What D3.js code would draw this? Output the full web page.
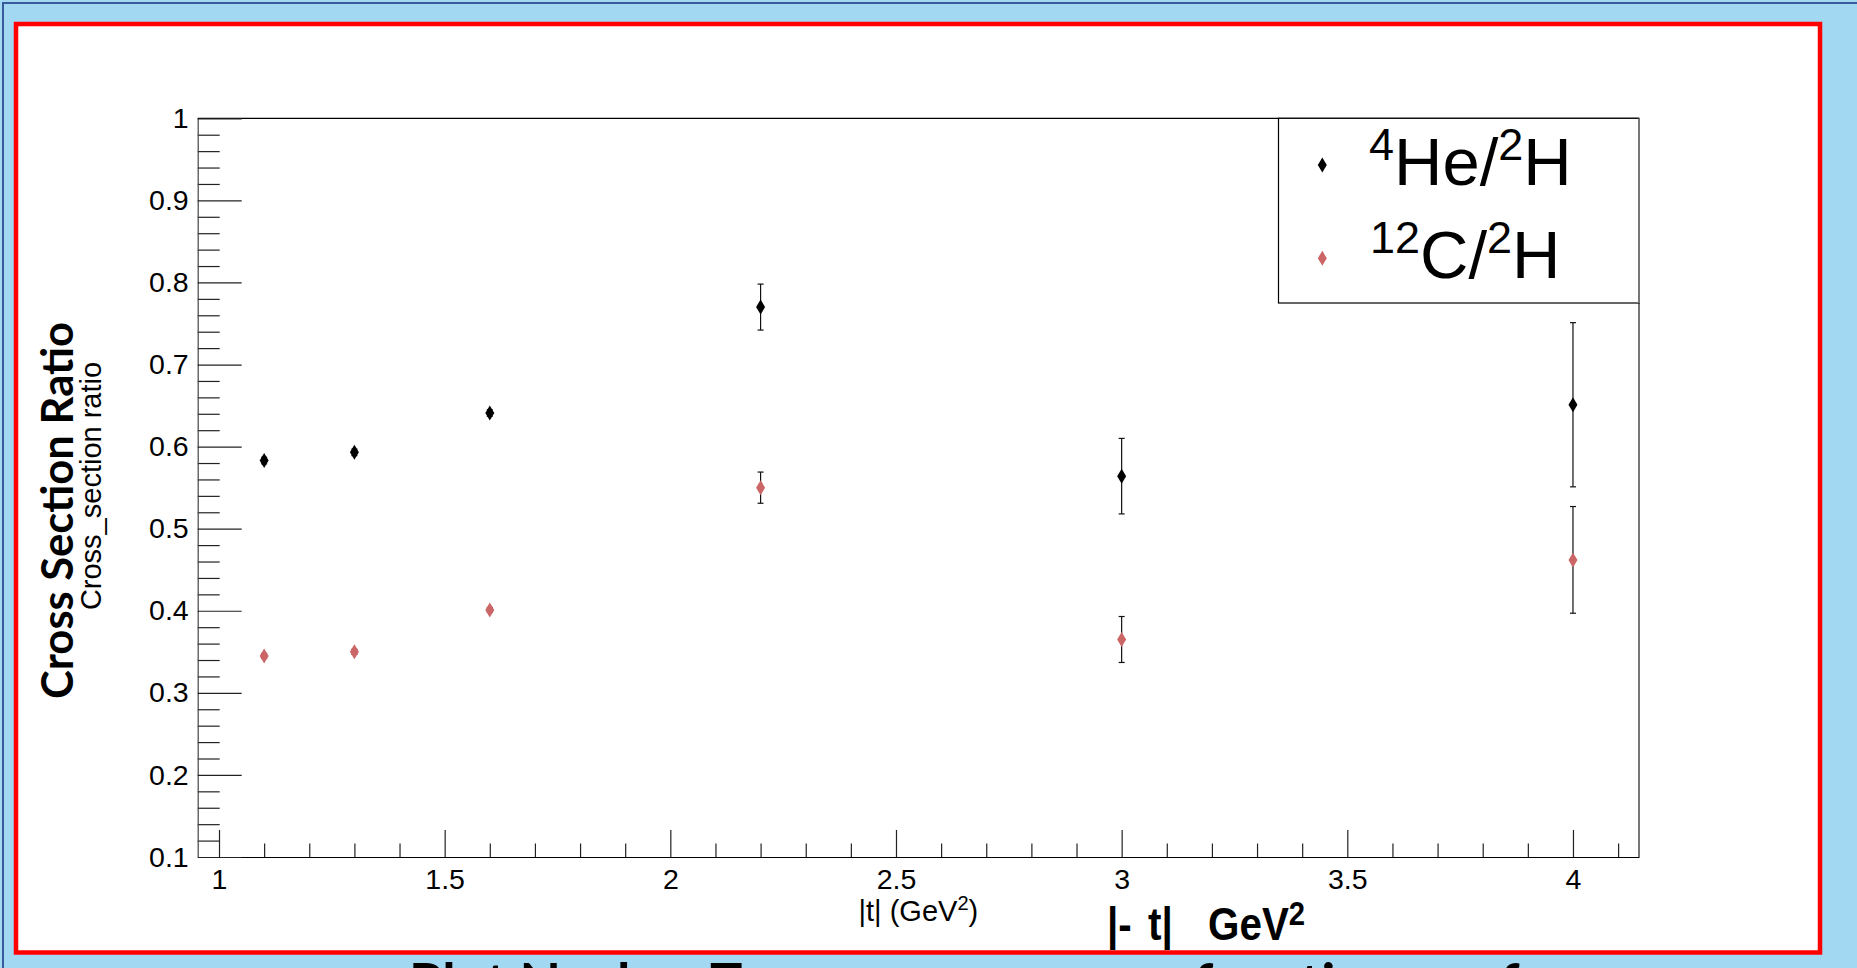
<!DOCTYPE html>
<html>
<head>
<meta charset="utf-8">
<script src="https://cdn.jsdelivr.net/npm/d3@7"></script>
<style>
  html, body { margin: 0; padding: 0; overflow: hidden; background: #a2d8f2; }
  svg { display: block; }
</style>
</head>
<body>
<svg id="chart" width="1857" height="968"></svg>
<script>
// |t| bins (GeV^2)
const tValues = [1.1, 1.3, 1.6, 2.2, 3.0, 4.0];
// 4He / 2H cross section ratio and its uncertainty
const heRatio = [0.583, 0.593, 0.641, 0.770, 0.564, 0.651];
const heError = [0.004, 0.004, 0.004, 0.028, 0.046, 0.100];
// 12C / 2H cross section ratio and its uncertainty
const cRatio = [0.345, 0.350, 0.401, 0.550, 0.365, 0.462];
const cError = [0.003, 0.003, 0.003, 0.019, 0.028, 0.065];
// axis ticks
const xMajorTicks = [1, 1.5, 2, 2.5, 3, 3.5, 4];
const xMinorTicks = [1.1, 1.2, 1.3, 1.4, 1.6, 1.7, 1.8, 1.9, 2.1, 2.2, 2.3, 2.4, 2.6, 2.7, 2.8, 2.9,
                     3.1, 3.2, 3.3, 3.4, 3.6, 3.7, 3.8, 3.9, 4.1];
const yMajorTicks = [0.1, 0.2, 0.3, 0.4, 0.5, 0.6, 0.7, 0.8, 0.9, 1.0];
const yMinorTicks = [0.12, 0.14, 0.16, 0.18, 0.22, 0.24, 0.26, 0.28, 0.32, 0.34, 0.36, 0.38,
                     0.42, 0.44, 0.46, 0.48, 0.52, 0.54, 0.56, 0.58, 0.62, 0.64, 0.66, 0.68,
                     0.72, 0.74, 0.76, 0.78, 0.82, 0.84, 0.86, 0.88, 0.92, 0.94, 0.96, 0.98];
const seriesNames = ["He", "C"];
const seriesColors = ["#000000", "#cc6666"];

const svg = d3.select("#chart");
const W = 1857, H = 968;

// slide background with its thin dark border
svg.append("rect").attr("x", 0).attr("y", 0).attr("width", W).attr("height", H).attr("fill", "#a2d8f2");
svg.append("rect").attr("x", 3).attr("y", 3).attr("width", W + 20).attr("height", H + 20)
  .attr("fill", "none").attr("stroke", "#3b5a9c").attr("stroke-width", 2);

// caption running off the bottom of the slide
const cap = svg.append("text")
  .attr("y", 1002)
  .attr("font-family", "Lato, 'Open Sans', sans-serif")
  .attr("font-weight", 700).attr("font-size", 54)
  .attr("fill", "#000");
cap.append("tspan").attr("x", 409).text("Plot Nuclear ");
cap.append("tspan").attr("x", 710).text("Transparency as a ");
cap.append("tspan").attr("x", 1194).text("function ");
cap.append("tspan").attr("x", 1470).text("of");

// white canvas with red outline
svg.append("rect").attr("x", 16).attr("y", 24).attr("width", 1804).attr("height", 928.5)
  .attr("fill", "#ffffff").attr("stroke", "#ff0000").attr("stroke-width", 4.5);

const pLeft = 197.7, pRight = 1639, pTop = 118.3, pBottom = 857;
const x = d3.scaleLinear().domain([0.9528, 4.1463]).range([pLeft, pRight]);
const y = d3.scaleLinear().domain([0.1, 1.0]).range([pBottom, pTop]);

const fmt = d => (Math.abs(d - 1) < 1e-9 ? "1" : (Math.round(d * 10) / 10).toString());
const tickFont = "'Liberation Sans', Arial, Helvetica, sans-serif";

// frame top and right
svg.append("line").attr("x1", pLeft).attr("x2", pRight).attr("y1", pTop).attr("y2", pTop)
  .attr("stroke", "#000").attr("stroke-width", 1.2);
svg.append("line").attr("x1", pRight).attr("x2", pRight).attr("y1", pTop).attr("y2", pBottom)
  .attr("stroke", "#777").attr("stroke-width", 2);

// x axis: major ticks with labels, minor ticks without
const xAxisMinor = d3.axisBottom(x).tickValues(xMinorTicks).tickSizeInner(-13.5).tickSizeOuter(0).tickFormat("");
const xAxisMajor = d3.axisBottom(x).tickValues(xMajorTicks).tickSizeInner(-27).tickSizeOuter(0)
  .tickPadding(12).tickFormat(fmt);
svg.append("g").attr("transform", `translate(0,${pBottom})`).call(xAxisMinor)
  .call(g => g.select(".domain").remove());
const gx = svg.append("g").attr("transform", `translate(0,${pBottom})`).call(xAxisMajor);
gx.select(".domain").attr("stroke", "#000").attr("stroke-width", 1.2);
gx.selectAll("text").attr("font-family", tickFont).attr("font-size", 28.5).attr("fill", "#000");

// y axis
const yAxisMinor = d3.axisLeft(y).tickValues(yMinorTicks).tickSizeInner(-22).tickSizeOuter(0).tickFormat("");
const yAxisMajor = d3.axisLeft(y).tickValues(yMajorTicks).tickSizeInner(-44).tickSizeOuter(0)
  .tickPadding(9).tickFormat(fmt);
svg.append("g").attr("transform", `translate(${pLeft},0)`).call(yAxisMinor)
  .call(g => g.select(".domain").remove());
const gy = svg.append("g").attr("transform", `translate(${pLeft},0)`).call(yAxisMajor);
gy.select(".domain").attr("stroke", "#444").attr("stroke-width", 1.2);
gy.selectAll("text").attr("font-family", tickFont).attr("font-size", 28.5).attr("fill", "#000");
svg.selectAll(".tick line").attr("stroke", "#222").attr("stroke-width", 1.2);

// axis titles
const xt = svg.append("text").attr("x", (pLeft + pRight) / 2).attr("y", 921)
  .attr("text-anchor", "middle").attr("font-family", tickFont).attr("font-size", 29).attr("fill", "#000");
xt.append("tspan").text("|t| (GeV");
xt.append("tspan").attr("font-size", 20).attr("dy", -11).text("2");
xt.append("tspan").attr("dy", 11).text(")");

svg.append("text")
  .attr("transform", `translate(101,486) rotate(-90)`)
  .attr("text-anchor", "middle").attr("font-family", tickFont).attr("font-size", 29).attr("fill", "#000")
  .text("Cross_section ratio");

svg.append("text")
  .attr("transform", `translate(73,510.5) rotate(-90)`)
  .attr("text-anchor", "middle")
  .attr("font-family", "Lato, 'Open Sans', sans-serif").attr("font-weight", 700).attr("font-size", 43)
  .attr("textLength", 377).attr("lengthAdjust", "spacingAndGlyphs")
  .attr("fill", "#000")
  .text("Cross Section Ratio");

// bold narrow title under the axis, drawn in pieces on a horizontally squeezed baseline
const narrow = 0.86;
const bt = svg.append("text")
  .attr("transform", `translate(1107,940) scale(${narrow},1)`)
  .attr("font-family", "'Liberation Sans', Arial, Helvetica, sans-serif")
  .attr("font-weight", 700).attr("font-size", 47).attr("fill", "#000");
bt.append("tspan").attr("x", 0).text("|-");
bt.append("tspan").attr("x", (1148 - 1107) / narrow).text("t|");
bt.append("tspan").attr("x", (1208 - 1107) / narrow).text("GeV");
bt.append("tspan").attr("font-size", 34).attr("dy", -15).text("2");

// data points with error bars
const diamond = "M0,-7.5 L4.5,0 L0,7.5 L-4.5,0 Z";
const series = [
  { name: seriesNames[0], vals: heRatio, errs: heError, color: seriesColors[0] },
  { name: seriesNames[1], vals: cRatio, errs: cError, color: seriesColors[1] }
];
series.forEach(s => {
  const pts = tValues.map((t, i) => ({ t, v: s.vals[i], e: s.errs[i] }));
  const g = svg.append("g");
  g.selectAll("line.err").data(pts).join("line").attr("class", "err")
    .attr("x1", d => x(d.t)).attr("x2", d => x(d.t))
    .attr("y1", d => y(d.v - d.e)).attr("y2", d => y(d.v + d.e))
    .attr("stroke", "#111").attr("stroke-width", 1.2);
  [-1, 1].forEach(sgn => {
    g.selectAll(`line.cap${sgn}`).data(pts).join("line").attr("class", `cap${sgn}`)
      .attr("x1", d => x(d.t) - 3).attr("x2", d => x(d.t) + 3)
      .attr("y1", d => y(d.v + sgn * d.e)).attr("y2", d => y(d.v + sgn * d.e))
      .attr("stroke", "#111").attr("stroke-width", 1.2);
  });
  g.selectAll("path").data(pts).join("path")
    .attr("d", diamond)
    .attr("transform", d => `translate(${x(d.t)},${y(d.v)})`)
    .attr("fill", s.color);
});

// legend
const lg = svg.append("g");
lg.append("rect").attr("x", 1278.5).attr("y", pTop).attr("width", pRight - 1278.5).attr("height", 303 - pTop)
  .attr("fill", "#fff").attr("stroke", "#000").attr("stroke-width", 1.2);
lg.append("line").attr("x1", pRight).attr("x2", pRight).attr("y1", pTop).attr("y2", 303)
  .attr("stroke", "#777").attr("stroke-width", 2);
const legendFont = "'Liberation Sans', Arial, Helvetica, sans-serif";
const entries = [
  { color: seriesColors[0], my: 165, tx: 1369, ty: 185, sup1: "4", base1: "He/" },
  { color: seriesColors[1], my: 258.3, tx: 1370, ty: 277.5, sup1: "12", base1: "C/" }
];
entries.forEach(e => {
  lg.append("path").attr("d", diamond).attr("transform", `translate(1322.3,${e.my})`).attr("fill", e.color);
  const t = lg.append("text").attr("x", e.tx).attr("y", e.ty)
    .attr("font-family", legendFont).attr("font-size", 67).attr("fill", "#000");
  t.append("tspan").attr("font-size", 45).attr("dy", -25).text(e.sup1);
  t.append("tspan").attr("dy", 25).text(e.base1);
  t.append("tspan").attr("font-size", 45).attr("dy", -25).text("2");
  t.append("tspan").attr("dy", 25).text("H");
});
</script>
</body>
</html>
